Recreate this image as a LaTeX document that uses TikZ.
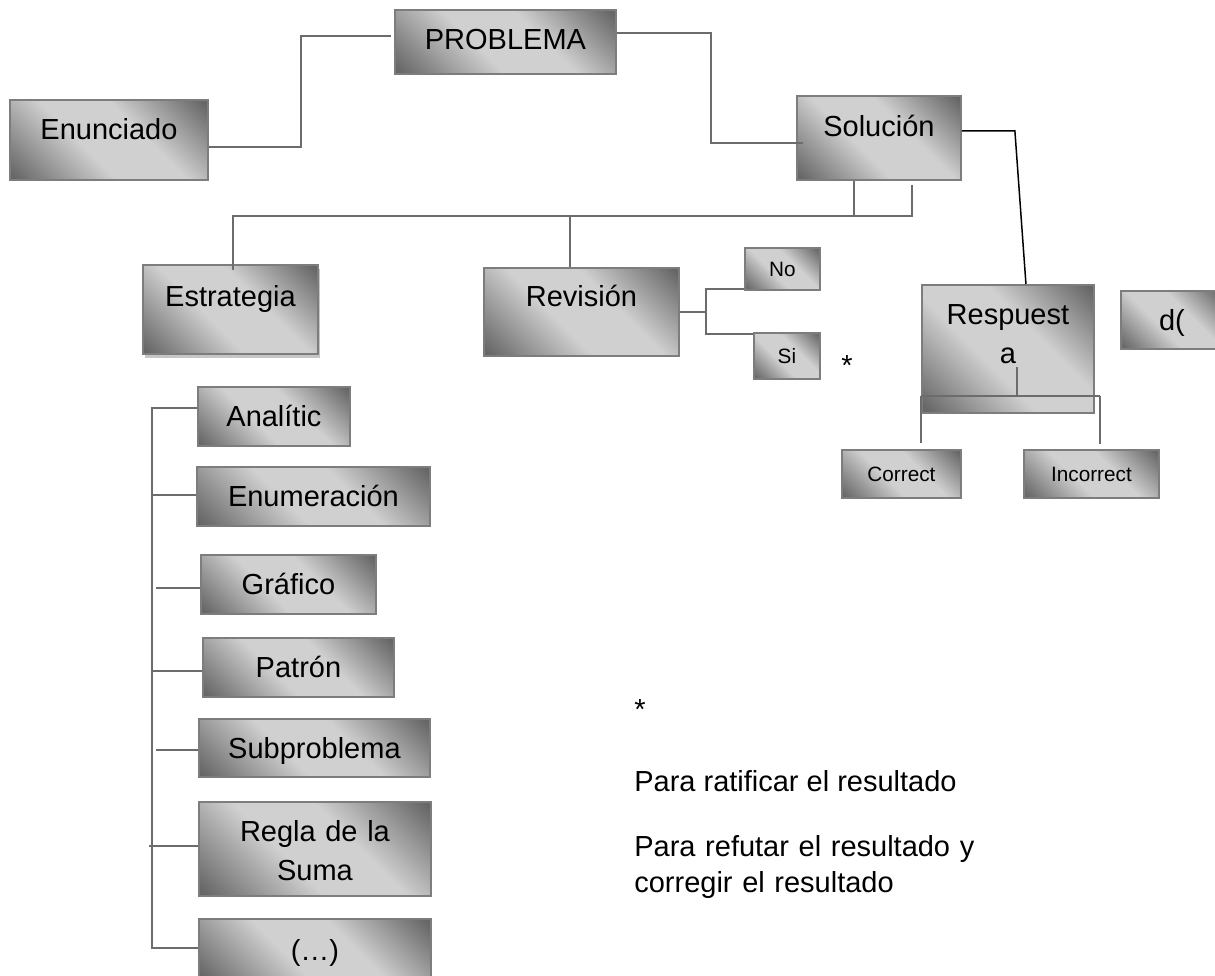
\documentclass[tikz,border=0pt]{standalone}
\usepackage{fontspec}
\setmainfont{Liberation Sans}
\usetikzlibrary{positioning, calc, shadows}
\definecolor{shadedark}{RGB}{102,102,102}
\definecolor{shadelight}{RGB}{208,208,208}
\definecolor{edgegray}{RGB}{125,125,125}
\definecolor{linkgray}{RGB}{108,108,108}
\pgfdeclareverticalshading{greyfade}{100bp}{color(0bp)=(shadedark); color(16bp)=(shadedark); color(42bp)=(shadelight); color(60bp)=(shadelight); color(84bp)=(shadedark); color(100bp)=(shadedark)}
\tikzset{
    % Shaded boxes
    greybox/.style={
        rectangle,
        draw=edgegray,
        line width=1.1pt,
        inner sep=0pt,
        shading=greyfade,
        shading angle=-45,
        anchor=north west,
        align=center,
        font=\fontsize{16.5}{22}\selectfont,
        text height=12pt,
        text depth=0.2pt
    },
    smallbox/.style={
        greybox,
        font=\fontsize{11.8}{14}\selectfont,
        text height=8.5pt,
        text depth=0pt
    },
    textlift/.style={
        text depth=#1
    },
    % Connectors
    link/.style={
        draw=linkgray,
        line width=1.15pt
    },
    blackline/.style={
        draw=black,
        line width=0.85pt
    },
    % Notes
    note/.style={
        font=\fontsize{16.5}{21}\selectfont,
        anchor=base west,
        align=left,
        inner sep=0pt
    }
}

\begin{document}
\begin{tikzpicture}[x=0.02cm, y=-0.02cm]

    \useasboundingbox (0,0) rectangle (1215,975);

    % Top level
    \node[greybox, minimum width=4.42cm, minimum height=1.28cm, textlift=3.6pt] (problema) at (394,9) {PROBLEMA};
    \node[greybox, minimum width=3.96cm, minimum height=1.6cm, textlift=12.7pt] (enunciado) at (9,99) {Enunciado};
    \node[greybox, minimum width=3.28cm, minimum height=1.68cm, textlift=13.9pt] (solucion) at (796,95) {Solución};

    % Second level
    \node[greybox, minimum width=3.5cm, minimum height=1.78cm, textlift=15pt,
          drop shadow={shadow xshift=0.05cm, shadow yshift=-0.09cm, fill=gray!45, opacity=1}] (estrategia) at (142,264) {Estrategia};
    \node[greybox, minimum width=3.9cm, minimum height=1.76cm, textlift=18.4pt] (revision) at (483,267) {Revisión};
    \node[greybox, minimum width=3.44cm, minimum height=2.56cm, text width=3.44cm, textlift=40pt] (respuesta) at (921,284) {Respuest\\a};
    \node[greybox, minimum width=2.04cm, minimum height=1.16cm] (dparen) at (1120,290) {d(};

    % Revision outcomes
    \node[smallbox, minimum width=1.5cm, minimum height=0.84cm] (no) at (744,247) {No};
    \node[smallbox, minimum width=1.32cm, minimum height=0.92cm] (si) at (753,332) {Si};
    \node[note] (starsi) at (841,375) {*};

    % Answer outcomes
    \node[smallbox, minimum width=2.38cm, minimum height=0.96cm] (correct) at (841,449) {Correct};
    \node[smallbox, minimum width=2.7cm, minimum height=0.96cm] (incorrect) at (1023,449) {Incorrect};

    % Strategy list
    \node[greybox, minimum width=3.04cm, minimum height=1.18cm] (analitico) at (197,386) {Analític};
    \node[greybox, minimum width=4.66cm, minimum height=1.18cm] (enumeracion) at (196,466) {Enumeración};
    \node[greybox, minimum width=3.5cm, minimum height=1.18cm] (grafico) at (200,554) {Gráfico};
    \node[greybox, minimum width=3.82cm, minimum height=1.18cm] (patron) at (202,637) {Patrón};
    \node[greybox, minimum width=4.62cm, minimum height=1.16cm] (subproblema) at (198,718) {Subproblema};
    \node[greybox, minimum width=4.64cm, minimum height=1.88cm, text width=4.64cm, textlift=20.6pt] (regla) at (198,801) {Regla de la\\Suma};
    \node[greybox, minimum width=4.64cm, minimum height=1.24cm] (etc) at (198,918) {(\dots)};

    % Notes
    \node[note] (starnote) at (634,719) {*};
    \node[note] (ratificar) at (634,791) {Para ratificar el resultado};
    \node[note, text width=8cm] (refutar) at (634,856) {Para refutar el resultado y\\corregir el resultado};

    % Connectors - top
    \draw[link] ([yshift=-0.14cm]enunciado.east) -- ++(92,0) |- ([xshift=-0.06cm,yshift=0.12cm]problema.west);
    \draw[link] ([yshift=0.18cm]problema.east) -- ++(94,0) |- ([xshift=0.14cm,yshift=-0.1cm]solucion.west);
    \draw[blackline] ([yshift=0.14cm]solucion.east) -- ++(53,0) -- ([xshift=0.36cm]respuesta.north);

    % Solucion branches
    \draw[link] ([xshift=-0.5cm]solucion.south) -- ++(0,35) coordinate (bus);
    \draw[link] ([xshift=0.66cm,yshift=-0.08cm]solucion.south) |- (bus) -| ([xshift=0.05cm,yshift=-0.12cm]estrategia.north);
    \draw[link] ([xshift=-0.22cm]revision.north) |- (bus);

    % Revision branches
    \draw[link] (revision.east) -- ++(26,0) coordinate (fork);
    \draw[link] ([yshift=0.04cm]no.south west) -| (fork) |- ([yshift=-0.04cm]si.north west);

    % Respuesta branches
    \draw[link] ($(respuesta.center)+(9,18)$) -- ($(respuesta.south)+(9,-18)$);
    \draw[link] ($(respuesta.south west)+(0,-18)$) coordinate (rl) -- ($(respuesta.south east)+(5,-18)$) coordinate (rr);
    \draw[link] (rl) -- ($(rl |- correct.north)+(0,-6)$);
    \draw[link] (rr) -- ($(rr |- incorrect.north)+(0,-5)$);

    % Strategy list spine
    \draw[link] ($(analitico.west)+(0,-8)$) -| ($(etc.west)+(-46,-2)$) -- ($(etc.west)+(0,-2)$);
    \foreach \n/\dx/\dy in {enumeracion/43/-1, grafico/44/4, patron/49/4, subproblema/42/2, regla/49/-3}
        \draw[link] ($(\n.west)+(0,\dy)$) -- ++(-\dx,0);

\end{tikzpicture}
\end{document}
